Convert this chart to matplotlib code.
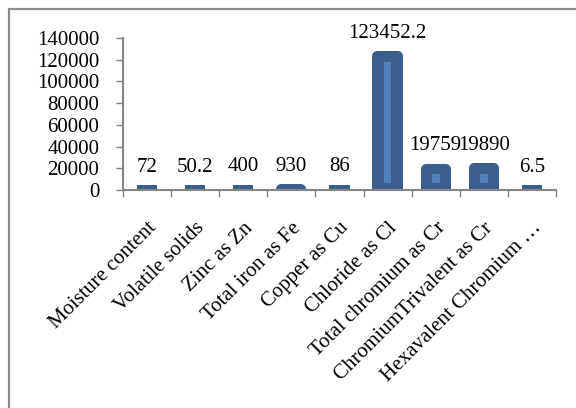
import numpy as np
import matplotlib
matplotlib.use("Agg")
from matplotlib import pyplot as plt
from matplotlib.patches import Rectangle
from matplotlib.transforms import ScaledTranslation

#
# parameter values for the sludge sample
#
categories = ['Moisture content', 'Volatile solids', 'Zinc as Zn', 'Total iron as Fe',
              'Copper as Cu', 'Chloride as Cl', 'Total chromium as Cr',
              'ChromiumTrivalent as Cr', 'Hexavalent Chromium \u2026']
values = [72, 50.2, 400, 930, 86, 123452.2, 19759, 19890, 6.5]
labels = ['72', '50.2', '400', '930', '86', '123452.2', '19759', '19890', '6.5']
yticks = [0, 20000, 40000, 60000, 80000, 100000, 120000, 140000]

plt.rcParams['font.family'] = ['Liberation Serif', 'DejaVu Serif']

dark = '#3b5e8c'
light = '#4f81bd'
grey = '#868686'

fig = plt.figure(figsize=(5.76, 4.08), dpi=100)
ax = fig.add_axes([0.2135, 0.5343, 0.7517, 0.3726])

x = np.arange(len(values))
vals = np.array(values)

# outer bar with thick rounded edge, like the excel bevel
ax.bar(x, vals, width=0.42, color=dark, edgecolor=dark, linewidth=7.2,
       joinstyle='round', zorder=2)

# lighter stripe inside the taller bars
inner_bottom = 6500
inner_top = vals - 5200
tall = inner_top > inner_bottom
ax.bar(x[tall], inner_top[tall] - inner_bottom, bottom=inner_bottom, width=0.16,
       color=light, linewidth=0, zorder=3)

for xi, v, lab in zip(x, vals, labels):
    ax.annotate(lab, (xi, v), xytext=(0, 16.5), textcoords='offset points',
                ha='center', va='center', fontsize=15, zorder=4)

ax.set_xlim(-0.5, len(values) - 0.5)
ax.set_ylim(0, 140000)
ax.set_yticks(yticks)
ax.set_yticklabels([str(t) for t in yticks], fontsize=15)

# ticks between the categories, labels at the centres
ax.set_xticks(np.arange(len(values) + 1) - 0.5)
ax.set_xticklabels([])
ax.set_xticks(x, minor=True)
ax.set_xticklabels(categories, minor=True, rotation=45, ha='right',
                   rotation_mode='anchor', fontsize=15)
shift = ScaledTranslation(-2 / 100, 0, fig.dpi_scale_trans)
for t in ax.get_xminorticklabels():
    t.set_transform(t.get_transform() + shift)
ax.tick_params(axis='x', which='minor', length=0, pad=20.5)
ax.tick_params(axis='x', which='major', length=5, width=1, color=grey, direction='out')
ax.tick_params(axis='y', length=5, width=1, color=grey, direction='out', pad=12)

for side in ['top', 'right']:
    ax.spines[side].set_visible(False)
for side in ['left', 'bottom']:
    ax.spines[side].set_color(grey)
    ax.spines[side].set_linewidth(1.5)

# chart area border
fig.patches.append(Rectangle((9 / 576, -0.05), 1.1, 1 - 9 / 408 + 0.05,
                             transform=fig.transFigure, fill=False,
                             edgecolor='#8c8c8c', linewidth=1.6))

fig.savefig('out.png', dpi=100)
